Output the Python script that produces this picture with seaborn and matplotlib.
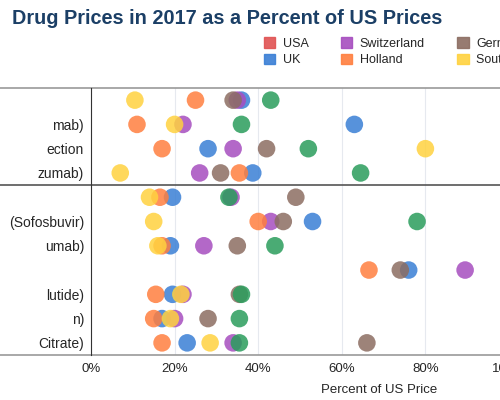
import matplotlib
matplotlib.use("Agg")
import matplotlib.pyplot as plt
import seaborn as sns
import pandas as pd

rows = ["", "mab)", "ection", "zumab)", "", "(Sofosbuvir)", "umab)", "", "lutide)", "n)", "Citrate)"]
countries = ["USA", "UK", "Switzerland", "Holland", "Germany", "South Africa", "Japan"]
colors = ["#e05252", "#3a7fd5", "#a64dbf", "#ff7f3f", "#8c6d62", "#ffd23f", "#2a9d5c"]

# percent of US price, one list per country (USA not drawn)
uk = [36, 63, 28, 38.7, 19.5, 53, 19, 76, 19.5, 17, 23]
switzerland = [35, 22, 34, 26, 33.5, 43, 27, 89.5, 22, 20, 34]
holland = [25, 11, 17, 35.5, 16.5, 40, 17, 66.5, 15.5, 15, 17]
germany = [34, None, 42, 31, 49, 46, 35, 74, 35.5, 28, 66]
south_africa = [10.5, 20, 80, 7, 14, 15, 16, None, 21.5, 19, 28.5]
japan = [43, 36, 52, 64.5, 33, 78, 44, None, 36, 35.5, 35.5]

series = {"UK": uk, "Switzerland": switzerland, "Holland": holland,
          "Germany": germany, "South Africa": south_africa, "Japan": japan}
recs = []
for name, vals in series.items():
    for i, v in enumerate(vals):
        if v is not None:
            recs.append({"row": i, "pct": v, "country": name})
df = pd.DataFrame(recs)

sns.set_style("white")
plt.rcParams['font.family'] = ['Liberation Sans', 'DejaVu Sans']

fig = plt.figure(figsize=(5, 4), dpi=100)
ax = fig.add_axes([0.182, 0.1125, 0.836, 0.6675])
sns.scatterplot(data=df, x="pct", y="row", hue="country", hue_order=countries,
                palette=dict(zip(countries, colors)), s=160, alpha=0.85,
                edgecolor="none", legend=False, ax=ax)
ax.set_xlim(0, 100)
ax.set_ylim(10.5, -0.5)
ax.set_yticks(range(len(rows)))
ax.set_yticklabels(rows, fontsize=10)
ax.set_xticks([0, 20, 40, 60, 80, 100])
ax.set_xticklabels(["0%", "20%", "40%", "60%", "80%", "100%"], fontsize=9.5)
ax.tick_params(length=0, pad=5)
ax.tick_params(axis="x", pad=6)
ax.xaxis.grid(True, color="#e6e9ef", lw=0.8)
ax.set_axisbelow(True)
ax.set_xlabel("Percent of US Price", fontsize=9.5, x=0.69, labelpad=6)
ax.set_ylabel("")
for s in ["top", "right", "bottom"]:
    ax.spines[s].set_visible(False)
ax.spines["left"].set_color("#333333")
for y in [-0.5, 3.5, 10.5]:
    ax.axhline(y, xmin=-0.25, xmax=1.1, color="#555555" if y == 3.5 else "#999999",
               lw=1.2, clip_on=False)

fig.text(0.884, 0.955, "Drug Prices in 2017 as a Percent of US Prices", ha="right",
         va="center", fontsize=14.3, fontweight="bold", color="#1b3f66")

handles = [plt.Rectangle((0, 0), 1, 1, color=c, alpha=0.9) for c in colors]
fig.legend(handles, countries, ncol=4, loc="upper left", bbox_to_anchor=(0.505, 0.935),
           frameon=False, fontsize=9, handlelength=0.9, handleheight=0.9,
           columnspacing=2.6, labelspacing=0.3, handletextpad=0.6)

fig.savefig("out.png", dpi=100)
